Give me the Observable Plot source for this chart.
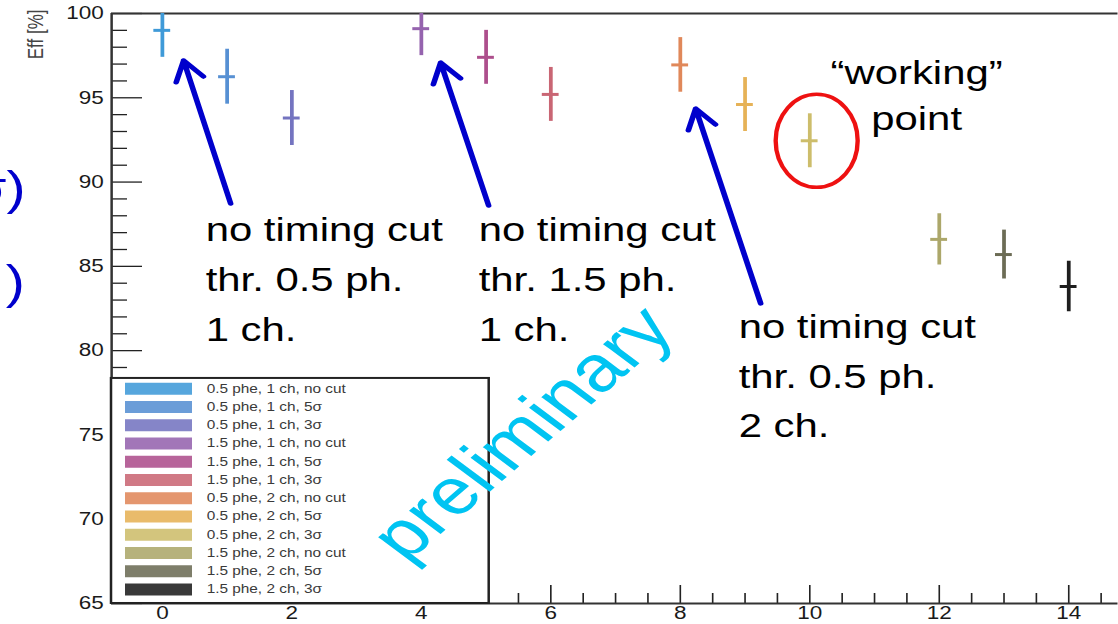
<!DOCTYPE html>
<html>
<head>
<meta charset="utf-8">
<script src="https://cdn.jsdelivr.net/npm/d3@7"></script>
<script src="https://cdn.jsdelivr.net/npm/@observablehq/plot@0.6"></script>
<style>
html, body { margin: 0; padding: 0; background: #fff; overflow: hidden; }
#chart { width: 1118px; height: 624px; overflow: hidden; }
#chart svg { display: block; transform: scaleX(1.25); transform-origin: 0 0; max-width: none; }
</style>
</head>
<body>
<div id="chart"></div>
<script>
// ---- data ----
const configX = [0, 1, 2, 4, 5, 6, 8, 9, 10, 12, 13, 14];
const effValues = [99.0, 96.25, 93.8, 99.1, 97.4, 95.2, 96.95, 94.6, 92.45, 86.6, 85.7, 83.8];
const effErrors = [1.6, 1.63, 1.63, 1.6, 1.6, 1.6, 1.62, 1.6, 1.6, 1.52, 1.45, 1.5];
const seriesLabels = [
  "0.5 phe, 1 ch, no cut", "0.5 phe, 1 ch, 5σ", "0.5 phe, 1 ch, 3σ",
  "1.5 phe, 1 ch, no cut", "1.5 phe, 1 ch, 5σ", "1.5 phe, 1 ch, 3σ",
  "0.5 phe, 2 ch, no cut", "0.5 phe, 2 ch, 5σ", "0.5 phe, 2 ch, 3σ",
  "1.5 phe, 2 ch, no cut", "1.5 phe, 2 ch, 5σ", "1.5 phe, 2 ch, 3σ"
];
const seriesColors = ["#3f9ad8", "#5790d3", "#7474c0", "#9563ae", "#ad4e8c", "#c96674",
                      "#e0885a", "#e6b257", "#cdbd6b", "#aca76a", "#6c6c55", "#1e1e1e"];
const yTickValues = [65, 70, 75, 80, 85, 90, 95, 100];
const xTickValues = [0, 2, 4, 6, 8, 10, 12, 14];
const workingPointIndex = 8;

// annotations (data coordinates)
const noteX = [0.668, 4.885, 8.901];
const noteY = [80.6, 80.6, 74.85];
const noteText = ["no timing cut\nthr. 0.5 ph.\n1 ch.", "no timing cut\nthr. 1.5 ph.\n1 ch.", "no timing cut\nthr. 0.5 ph.\n2 ch."];
const arrowTail = [[1.054, 88.73], [5.039, 88.61], [9.241, 82.80]];
const arrowHead = [[0.328, 97.21], [4.298, 97.09], [8.237, 94.36]];
const workingText = "“working”\npoint";
const workingTextPos = [11.65, 93.06];
const prelimPos = [5.56, 75.1];
const legendRightX = 5.05;
const legendTopY = 78.35;

// ---- layout ----
const STRETCH = 1.25;
const W = 1118 / STRETCH, H = 624;
const mL = 88.8, mR = 0, mT = 13, mB = 21;
const xDomain = [-0.784, 14.77];
const yDomain = [65, 100];
const ppuX = (W - mL - mR) / (xDomain[1] - xDomain[0]);
const ppuY = (H - mT - mB) / (yDomain[1] - yDomain[0]);
const dxu = p => p / ppuX, dyu = p => p / ppuY;
const xmin = xDomain[0], xmax = xDomain[1];

const points = configX.map((x, i) => ({x, eff: effValues[i], err: effErrors[i], color: seriesColors[i], label: seriesLabels[i]}));
const legendStep = dyu(18.25);
const legendFirst = legendTopY - dyu(10.3);
const legendRows = seriesLabels.map((label, i) => ({label, color: seriesColors[i], y: legendFirst - i * legendStep}));
const notes = noteText.map((t, i) => ({x: noteX[i], y: noteY[i], text: t}));
const arrows = arrowTail.map((t, i) => ({x1: t[0], y1: t[1], x2: arrowHead[i][0], y2: arrowHead[i][1]}));

const minorY = d3.range(65, 100.01, 1).filter(v => v % 5 !== 0);
const minorX = d3.range(-0.5, 14.76, 0.5).filter(v => v % 2 !== 0);

const ellipse = {
  draw(ctx) {
    const rx = 32.8, ry = 46.5, k = 0.5523;
    ctx.moveTo(rx, 0);
    ctx.bezierCurveTo(rx, ry * k, rx * k, ry, 0, ry);
    ctx.bezierCurveTo(-rx * k, ry, -rx, ry * k, -rx, 0);
    ctx.bezierCurveTo(-rx, -ry * k, -rx * k, -ry, 0, -ry);
    ctx.bezierCurveTo(rx * k, -ry, rx, -ry * k, rx, 0);
    ctx.closePath();
  }
};

const FONT = "'Liberation Sans', Arial, Helvetica, sans-serif";
const wp = points[workingPointIndex];

const chart = Plot.plot({
  width: W, height: H,
  marginLeft: mL, marginRight: mR, marginTop: mT, marginBottom: mB,
  style: {fontFamily: FONT, background: "white"},
  x: {domain: xDomain},
  y: {domain: yDomain},
  marks: [
    // inner ticks (ROOT style)
    Plot.ruleY(minorY, {x1: xmin, x2: xmin + dxu(12.8), stroke: "#222", strokeWidth: 1.3}),
    Plot.ruleY(yTickValues, {x1: xmin, x2: xmin + dxu(24.8), stroke: "#222", strokeWidth: 1.3}),
    Plot.ruleX(minorX, {y1: 65, y2: 65 + dyu(10), stroke: "#222", strokeWidth: 1.3}),
    Plot.ruleX(xTickValues, {y1: 65, y2: 65 + dyu(18), stroke: "#222", strokeWidth: 1.3}),
    // frame
    Plot.ruleX([xmin], {y1: 65, y2: 100, stroke: "#333", strokeWidth: 2}),
    Plot.ruleY([65, 100], {x1: xmin, x2: xmax, stroke: "#333", strokeWidth: 2}),
    // axes labels
    Plot.axisY(yTickValues, {anchor: "left", tickSize: 0, tickPadding: 6.2, fontSize: 18, color: "#1a1a1a", label: null}),
    Plot.axisX(xTickValues, {anchor: "bottom", tickSize: 0, tickPadding: 3, fontSize: 18, color: "#1a1a1a", label: null}),
    Plot.text(["Eff [%]"], {frameAnchor: "top-left", dx: -60, dy: -4, rotate: -90, textAnchor: "end", lineAnchor: "middle", fontSize: 17, fill: "#444"}),
    // legend
    Plot.rect([{}], {x1: xmin, x2: legendRightX, y1: 65, y2: legendTopY, fill: "white", stroke: "#222", strokeWidth: 2}),
    Plot.ruleY(legendRows, {y: "y", x1: xmin + dxu(11.2), x2: xmin + dxu(64.8), stroke: "color", strokeWidth: 12, strokeOpacity: 0.88}),
    Plot.text(legendRows, {y: "y", x: xmin + dxu(76), text: "label", textAnchor: "start", fontSize: 12.3, fill: "#3a3a3a"}),
    // data: error crosses
    Plot.ruleX(points, {x: "x", y1: d => d.eff - d.err, y2: d => d.eff + d.err, stroke: "color", strokeWidth: 3, clip: true}),
    Plot.ruleY(points, {y: "eff", x1: d => d.x - 0.13, x2: d => d.x + 0.13, stroke: "color", strokeWidth: 3}),
    // watermark
    Plot.text(["preliminary"], {x: prelimPos[0], y: prelimPos[1], rotate: -47, fontSize: 65, fill: "#00c4f2", textAnchor: "middle", lineAnchor: "middle"}),
    // annotations
    Plot.arrow(arrows, {x1: "x1", y1: "y1", x2: "x2", y2: "y2", stroke: "#0000cc", strokeWidth: 4.5, headLength: 7.5, headAngle: 60}),
    Plot.text(notes, {x: "x", y: "y", text: "text", textAnchor: "start", lineAnchor: "bottom", lineHeight: 1.48, fontSize: 33.5, fill: "#000"}),
    Plot.text([workingText], {x: workingTextPos[0], y: workingTextPos[1], textAnchor: "middle", lineAnchor: "bottom", lineHeight: 1.4, fontSize: 33.5, fill: "#000"}),
    Plot.dot([wp], {x: "x", y: "eff", symbol: ellipse, stroke: "#ee1111", strokeWidth: 3.5, fill: "none", dx: 5.5}),
    // cropped slide text at the left edge
    Plot.text(["σ)"], {frameAnchor: "top-left", dx: 20 - mL, dy: 204 - mT, textAnchor: "end", lineAnchor: "bottom", fontSize: 46, fill: "#0000cc"}),
    Plot.text([")"], {frameAnchor: "top-left", dx: 19.5 - mL, dy: 298 - mT, textAnchor: "end", lineAnchor: "bottom", fontSize: 46, fill: "#0000cc"})
  ]
});

document.getElementById("chart").appendChild(chart);
</script>
</body>
</html>
